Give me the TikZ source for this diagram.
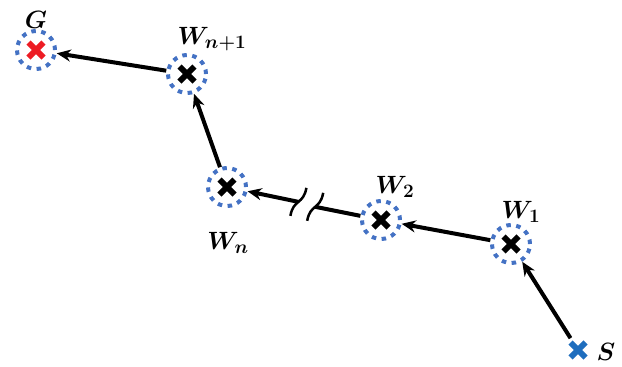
\documentclass[tikz,border=0pt]{standalone}
\usepackage{fix-cm}
\usepackage{bm}
\usetikzlibrary{arrows.meta,calc}
\DeclareMathSizes{25}{25}{19}{14}
\definecolor{wpblue}{RGB}{68,114,196}
\definecolor{goalred}{RGB}{237,28,36}
\definecolor{startblue}{RGB}{31,110,190}
\tikzset{
  wp/.style={circle,minimum size=38pt,inner sep=0pt,draw=wpblue,line width=4pt,dash pattern=on 4.5pt off 5.5pt},
  mv/.style={line width=4pt,-{Stealth[length=14pt,width=12pt]}},
  lbl/.style={font=\fontsize{25}{25}\selectfont\boldmath,inner sep=0pt},
  pics/xcross/.style={code={\draw[line width=6pt,#1] (-7.5,-7.5) -- (7.5,7.5) (-7.5,7.5) -- (7.5,-7.5);}}
}
\begin{document}
\begin{tikzpicture}[x=1pt,y=-1pt]
\useasboundingbox (0,0) rectangle (622,367);
% waypoints
\node[wp] (g) at (36,50) {};
\node[wp] (wn1) at (187,74) {};
\node[wp] (wn) at (227,187) {};
\node[wp] (w2) at (381,220) {};
\node[wp] (w1) at (511,244) {};
\coordinate (s) at (578,350);
\pic at (g) {xcross=goalred};
\foreach \p in {wn1,wn,w2,w1} \pic at (\p) {xcross=black};
\pic at (s) {xcross=startblue};
% labels
\node[lbl] (lg) at (36,20) {$G$};
\node[lbl] (lwn1) at (212,39) {$W_{n+1}$};
\node[lbl] (lwn) at (228,243) {$W_n$};
\node[lbl] (lw2) at (395,187) {$W_2$};
\node[lbl] (lw1) at (521,212) {$W_1$};
\node[lbl] (ls) at (606,352) {$S$};
% path
\draw[mv,shorten <=14pt] (s) -- (w1);
\draw[mv] (w1) -- (w2);
\coordinate (b1) at ($(w2.west)!0.40!(wn.east)$);
\coordinate (b2) at ($(w2.west)!0.55!(wn.east)$);
\draw[line width=4pt] (w2) -- (b1);
\draw[mv] (b2) -- (wn);
\foreach \b in {b1,b2}
  \draw[line width=2.5pt] ($(\b)+(-8,14)$) .. controls ($(\b)+(-5,-3)$) and ($(\b)+(5,3)$) .. ($(\b)+(8,-14)$);
\draw[mv] (wn) -- (wn1);
\draw[mv] (wn1) -- (g);
\end{tikzpicture}
\end{document}
